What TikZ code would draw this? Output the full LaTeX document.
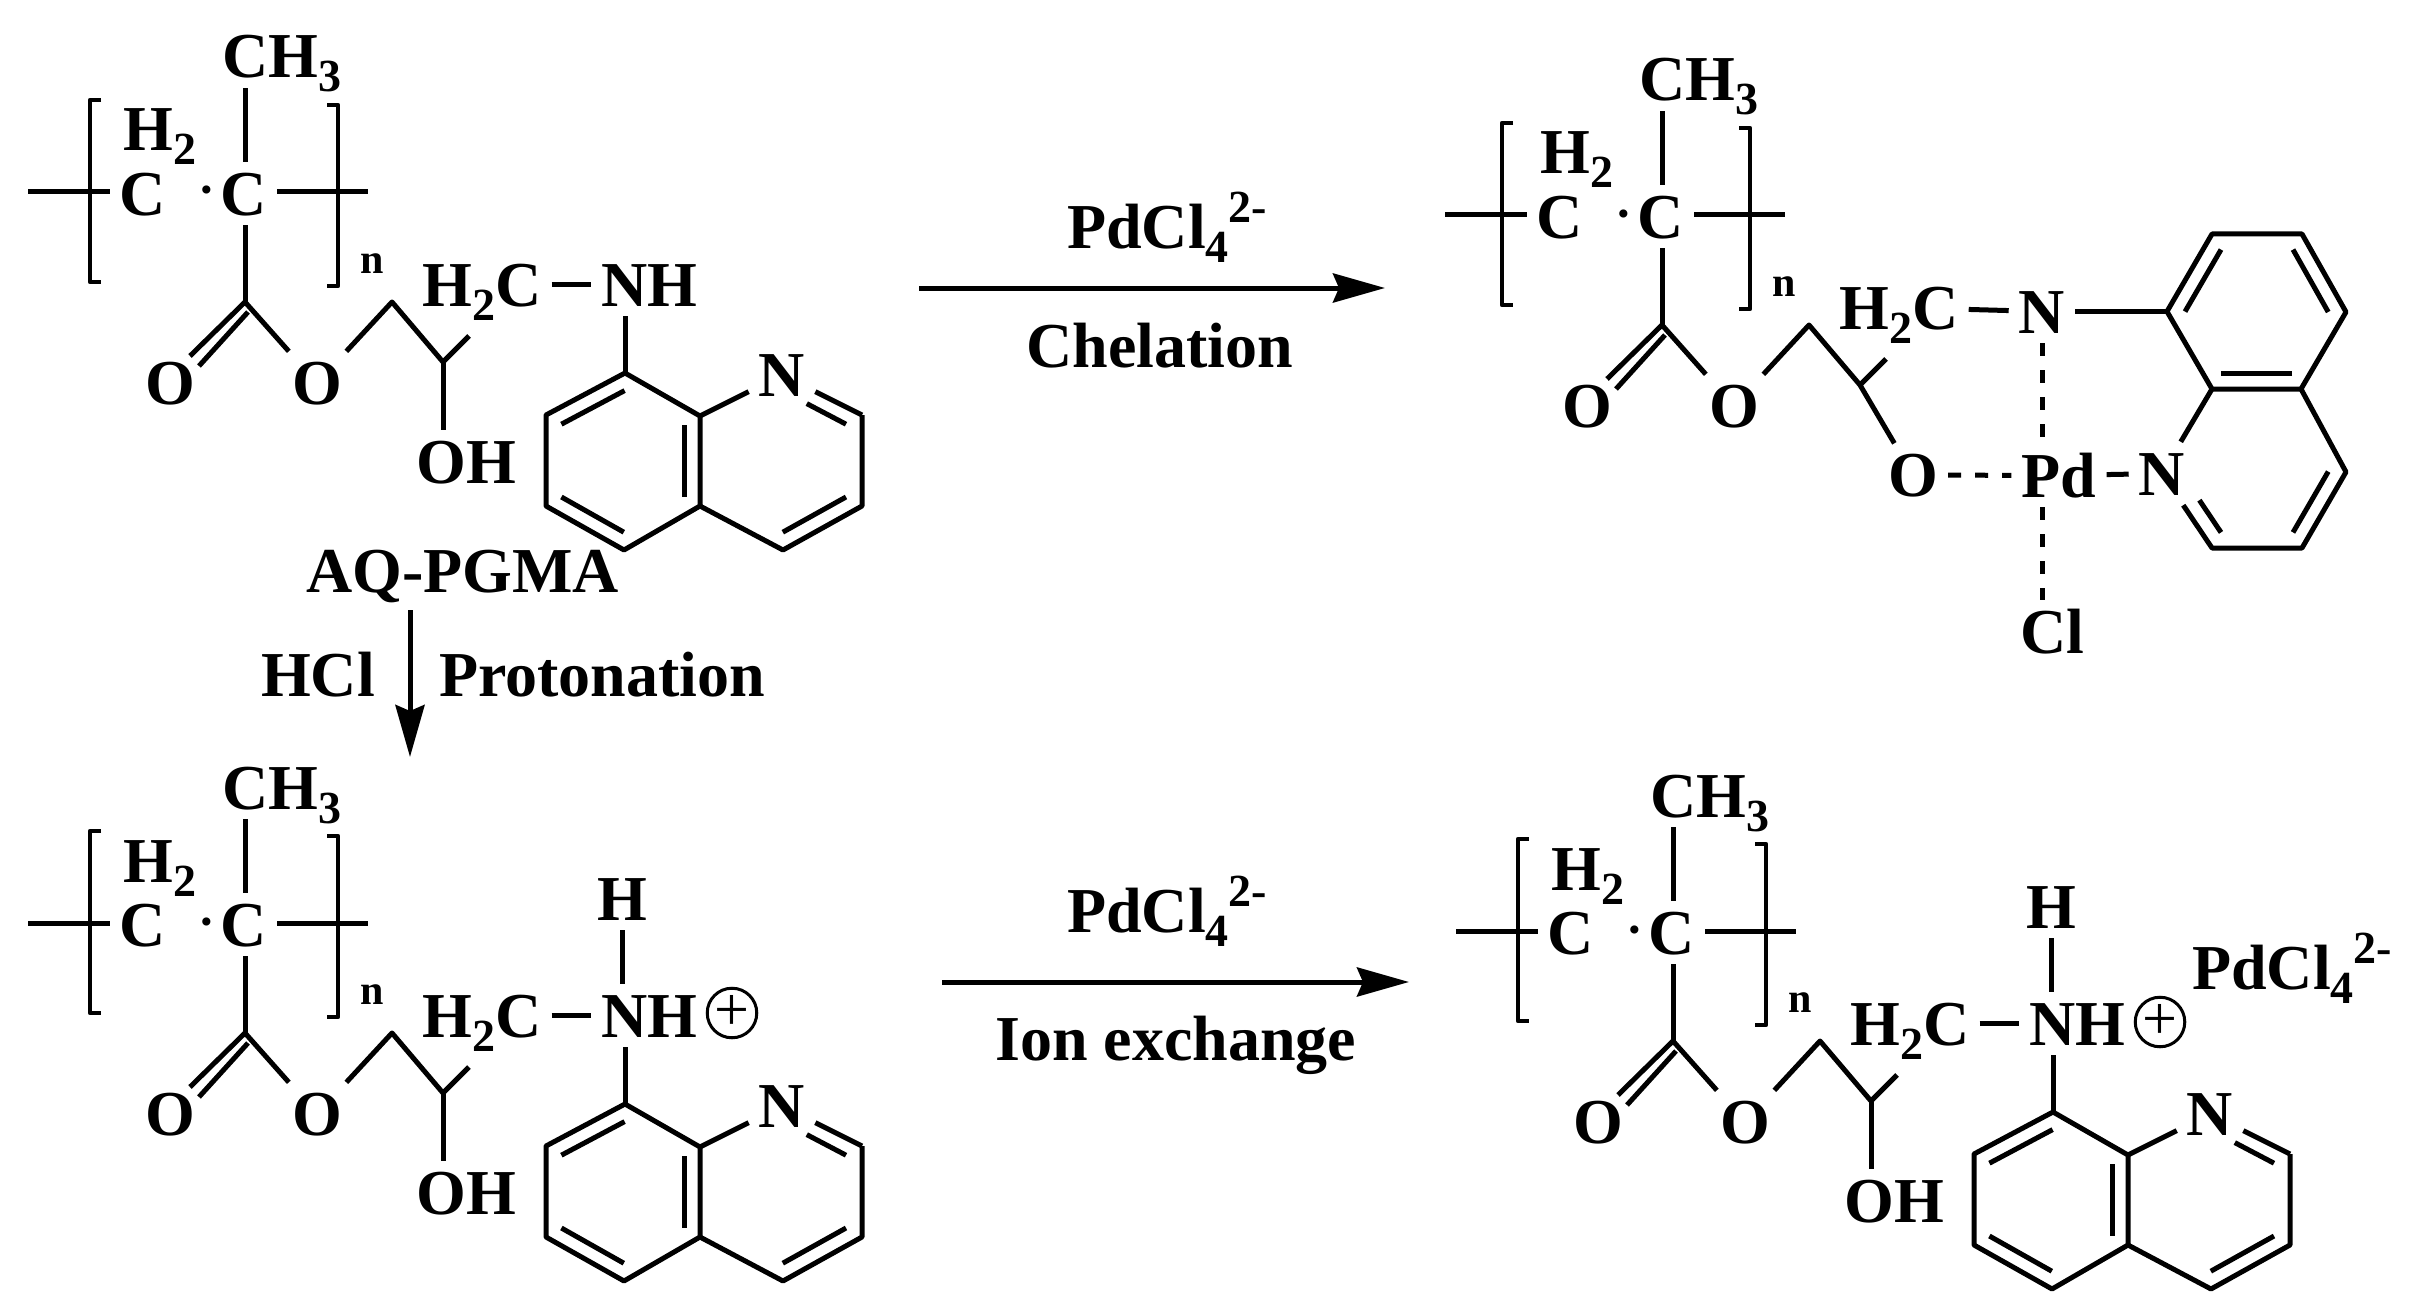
\documentclass[tikz,border=0pt]{standalone}
\usepackage{fontspec}
\setmainfont{Liberation Serif}
\usetikzlibrary{arrows.meta,calc}
\tikzstyle{atom} = [inner xsep=10pt,inner ysep=10pt,text height=43pt,text depth=0pt]
\tikzstyle{bond} = [line width=5pt,line join=round]
\tikzstyle{weakbond} = [bond,dash pattern=on 13pt off 14pt]
\tikzstyle{bracket} = [line width=4.5pt,line join=round]
\tikzstyle{caption} = [anchor=base west,inner sep=0pt]
\tikzstyle{react} = [line width=5pt,-{Stealth[length=52pt,width=29pt,inset=6pt]}]
\tikzstyle{charge} = [draw,circle,line width=3pt,minimum size=49pt,inner sep=0pt,font=\fontsize{62}{62}\mdseries\selectfont]
\newcommand{\subs}[1]{\raisebox{-14pt}{\fontsize{46}{46}\selectfont #1}}
\newcommand{\sups}[1]{\raisebox{26pt}{\fontsize{46}{46}\selectfont #1}}
\newcommand{\innerbond}[4][]{\draw[bond,#1] ($(#2)!0.2!(#4)$) -- ($(#3)!0.2!(#4)$);}
\tikzset{
  brackets/.pic={
    \node (n)[caption,font=\fontsize{42}{42}\bfseries\selectfont] at (360,273) {n};
    \draw[bracket] (101,100) -- (90,100) -- (90,282) -- (101,282);
    \draw[bracket] (327,105) -- (338,105) -- (338,286) -- (327,286);
  },
  backbone/.pic={
    \node (ch3)[atom] at (282,56.5) {CH\subs{3}};
    \node (h2)[atom] at (160,129.5) {H\subs{2}};
    \node (c1)[atom] at (143,193.5) {C};
    \node (dot)[atom,font=\fontsize{50}{50}\bfseries\selectfont] at (207,185.5) {·};
    \node (c2)[atom] at (244,193.5) {C};
    \node (o1)[atom] at (170,383) {O};
    \node (o2)[atom] at (317,383) {O};
    \node (h2c)[atom] at (482,284.5) {H\subs{2}C};
    \coordinate (sl) at (28,192);
    \coordinate (sr) at (368,192);
    \coordinate (cc) at (245,302);
    \coordinate (cd) at (248,312);
    \coordinate (d1) at (190,356);
    \coordinate (d2) at (199,366);
    \coordinate (ch) at (392,302);
    \coordinate (v) at (443,362);
    \coordinate (vh) at (469,336);
    \draw[bond] (sl) -- (sl -| c1.west);
    \draw[bond] (sr -| c2.east) -- (sr);
    \draw[bond] (cc |- c2.north) -- (cc |- ch3.south);
    \draw[bond] (cc |- c2.south) -- (cc);
    \draw[bond] (cc) -- (d1);
    \draw[bond] (cd) -- (d2);
    \draw[bond] (cc) -- (o2);
    \draw[bond] (o2) -- (ch) -- (v) -- (vh);
  },
  sidechain/.pic={
    \node (nh)[atom] at (649,284.5) {NH};
    \node (oh)[atom] at (466,461.5) {OH};
    \node (nq)[atom] at (782,375) {N};
    \coordinate (ra) at (625,373);
    \coordinate (rb) at (700,416);
    \coordinate (rc) at (700,506);
    \coordinate (rd) at (624,550);
    \coordinate (re) at (546,506);
    \coordinate (rf) at (546,415);
    \coordinate (rg) at (862,415);
    \coordinate (rh) at (862,506);
    \coordinate (ri) at (783,550);
    \coordinate (rj) at (782,373);
    \coordinate (mid1) at (623,461);
    \coordinate (mid2) at (782,461);
    \draw[bond] (nh.south -| ra) -- (ra);
    \draw[bond] (ra) -- (rf) -- (re) -- (rd) -- (rc) -- (rb) -- cycle;
    \draw[bond] (rb) -- (nq);
    \draw[bond] (nq) -- (rg);
    \draw[bond] (rg) -- (rh) -- (ri) -- (rc);
    \innerbond{ra}{rf}{mid1}
    \innerbond{re}{rd}{mid1}
    \innerbond{rb}{rc}{mid1}
    \innerbond[shorten <=28pt]{rj}{rg}{mid2}
    \innerbond{rh}{ri}{mid2}
  }
}
\begin{document}
\begin{tikzpicture}[x=1pt,y=-1pt,font=\fontsize{64}{64}\bfseries\selectfont]
  \useasboundingbox (0,0) rectangle (2420,1308);

  % three of the four repeat units carry the same side chain
  \foreach \m/\dx/\dy in {m1/0/0,m3/0/731,m4/1428/739} {
    \pic (\m) at (\dx,\dy) {backbone};
    \pic (\m) at (\dx,\dy) {brackets};
    \pic (\m) at (\dx,\dy) {sidechain};
    \draw[bond] (\m h2c) -- (\m nh);
    \draw[bond] (\m v) -- (\m v |- \m oh.north);
  }
  \pic (m2) at (1417,23) {backbone};
  \pic (m2) at (1412,23) {brackets};

  % chelate
  \node (m2n)[atom] at (2042,311.5) {N};
  \node (m2o)[atom] at (1913,475) {O};
  \node (pd)[atom] at (2059,475.5) {Pd};
  \node (m2nq)[atom] at (2162,473.5) {N};
  \node (cl)[atom] at (2052,631.5) {Cl};
  \coordinate (q1) at (2212,234);
  \coordinate (q2) at (2302,234);
  \coordinate (q3) at (2346,312);
  \coordinate (q4) at (2301,389);
  \coordinate (q5) at (2212,389);
  \coordinate (q6) at (2167,311.5);
  \coordinate (q7) at (2346,472);
  \coordinate (q8) at (2302,548);
  \coordinate (q9) at (2212,548);
  \coordinate (mid3) at (2257,312);
  \coordinate (mid4) at (2257,470);
  \draw[bond] (q1) -- (q2) -- (q3) -- (q4) -- (q5) -- (q6) -- cycle;
  \draw[bond] (q4) -- (q7) -- (q8) -- (q9) -- (m2nq);
  \draw[bond] (q5) -- (m2nq);
  \innerbond{q1}{q6}{mid3}
  \innerbond{q2}{q3}{mid3}
  \innerbond{q4}{q5}{mid3}
  \innerbond{q7}{q8}{mid4}
  \innerbond[shorten <=33pt]{m2nq}{q9}{mid4}
  \draw[bond] (m2h2c) -- (m2n);
  \draw[bond] (m2n) -- (q6);
  \draw[bond] (m2v) -- (m2o);
  \draw[bond] (pd) -- (m2nq);
  \draw[weakbond] (m2o) -- (pd);
  \draw[weakbond] (m2n.south) -- (m2n.south |- pd.north);
  \draw[weakbond] (m2n.south |- pd.south) -- (m2n.south |- cl.north);

  % protonated amine
  \node (m3h)[atom] at (622,898.5) {H};
  \node (m4h)[atom] at (2051,906.5) {H};
  \node (m3p)[charge] at (732,1013) {+};
  \node (m4p)[charge] at (2160,1022) {+};
  \draw[bond] (m3h) -- (m3h |- m3nh.north);
  \draw[bond] (m4h) -- (m4h |- m4nh.north);
  \node (m4pd)[caption] at (2192,989) {PdCl\subs{4}\sups{2-}};

  % reactions
  \node (name)[caption] at (306,592) {AQ-PGMA};
  \node (hcl)[caption] at (261,696) {HCl};
  \node (proton)[caption] at (439,696) {Protonation};
  \node (pd1)[caption] at (1067,248) {PdCl\subs{4}\sups{2-}};
  \node (chel)[caption] at (1026,367) {Chelation};
  \node (pd2)[caption] at (1067,932) {PdCl\subs{4}\sups{2-}};
  \node (ion)[caption] at (995,1060) {Ion exchange};
  \coordinate (s1) at (919,288);
  \coordinate (e1) at (1385,288);
  \coordinate (s2) at (410,610);
  \coordinate (e2) at (410,757);
  \coordinate (s3) at (942,982);
  \coordinate (e3) at (1409,982);
  \draw[react] (s1) -- (e1);
  \draw[react] (s2) -- (e2);
  \draw[react] (s3) -- (e3);
\end{tikzpicture}
\end{document}
